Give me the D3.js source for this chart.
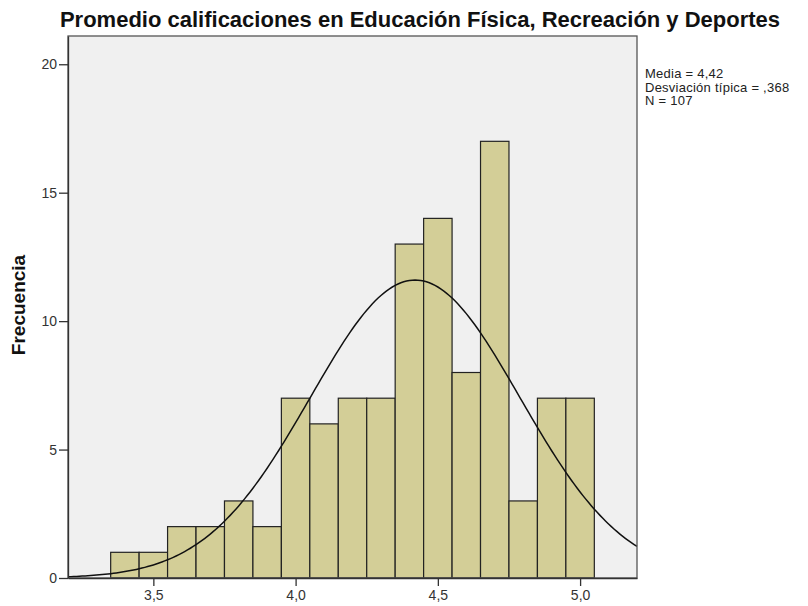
<!DOCTYPE html>
<html>
<head>
<meta charset="utf-8">
<script src="https://cdn.jsdelivr.net/npm/d3@7"></script>
<style>
  body { margin: 0; background: #fff; }
  text { font-family: Arial, "Liberation Sans", sans-serif; }
</style>
</head>
<body>
<svg id="chart"></svg>
<script>
// bin lower edges and counts (bin width 0,1)
const binStarts = [3.35, 3.45, 3.55, 3.65, 3.75, 3.85, 3.95, 4.05, 4.15, 4.25, 4.35, 4.45, 4.55, 4.65, 4.75, 4.85, 4.95];
const counts = [1, 1, 2, 2, 3, 2, 7, 6, 7, 7, 13, 14, 8, 17, 3, 7, 7];
const binWidth = 0.1;
const xTicks = [3.5, 4.0, 4.5, 5.0];
const yTicks = [0, 5, 10, 15, 20];
const mean = 4.42;
const sd = 0.368;
const n = 107;
const statLines = ["Media = 4,42", "Desviación típica = ,368", "N = 107"];

const width = 808, height = 606;
const margin = { top: 36, right: 171, bottom: 28, left: 68 };
const w = width - margin.left - margin.right;
const h = height - margin.top - margin.bottom;

const svg = d3.select('#chart')
    .attr('width', width)
    .attr('height', height);

const xScale = d3.scaleLinear().domain([3.2, 5.2]).range([0, w]);
const yScale = d3.scaleLinear().domain([0, 21.1]).range([h, 0]);

const fmt = d => d3.format('.1f')(d).replace('.', ',');

//title
svg.append('text')
    .attr('x', 420)
    .attr('y', 27)
    .attr('text-anchor', 'middle')
    .attr('font-size', 22)
    .attr('font-weight', 'bold')
    .attr('fill', '#111')
    .text('Promedio calificaciones en Educación Física, Recreación y Deportes');

const g = svg.append('g')
    .attr('transform', `translate(${margin.left},${margin.top})`);

//plot background
g.append('rect')
    .attr('width', w)
    .attr('height', h)
    .attr('fill', '#f0f0f0');

//bars
g.selectAll('.bar')
    .data(binStarts)
    .enter()
    .append('rect')
    .attr('class', 'bar')
    .attr('x', d => xScale(d))
    .attr('y', (d, i) => yScale(counts[i]))
    .attr('width', xScale(binStarts[0] + binWidth) - xScale(binStarts[0]))
    .attr('height', (d, i) => yScale(0) - yScale(counts[i]))
    .attr('fill', '#d3ce97')
    .attr('stroke', '#222')
    .attr('stroke-width', 1.2);

//normal curve
const curveX = d3.range(3.2, 5.2001, 0.01);
const density = x => n * binWidth / (sd * Math.sqrt(2 * Math.PI)) * Math.exp(-0.5 * Math.pow((x - mean) / sd, 2));
const line = d3.line()
    .x(d => xScale(d))
    .y(d => yScale(density(d)))
    .curve(d3.curveLinear);

g.append('path')
    .datum(curveX)
    .attr('fill', 'none')
    .attr('stroke', '#111')
    .attr('stroke-width', 1.5)
    .attr('d', line);

//frame
g.append('rect')
    .attr('width', w)
    .attr('height', h)
    .attr('fill', 'none')
    .attr('stroke', '#555')
    .attr('stroke-width', 1.3);

//x-axis
const xAxis = g.append('g')
    .attr('transform', `translate(0,${h})`)
    .call(d3.axisBottom(xScale).tickValues(xTicks).tickFormat(fmt).tickSize(8).tickPadding(4).tickSizeOuter(0));

//y-axis
const yAxis = g.append('g')
    .call(d3.axisLeft(yScale).tickValues(yTicks).tickSize(9).tickPadding(2).tickSizeOuter(0));

[xAxis, yAxis].forEach(a => {
    a.select('.domain').attr('stroke', '#333').attr('stroke-width', 1.3);
    a.selectAll('.tick line').attr('stroke', '#333').attr('stroke-width', 1.3);
    a.selectAll('.tick text').attr('font-size', 14).attr('fill', '#333')
        .attr('font-family', 'Arial, "Liberation Sans", sans-serif');
});

//y label
svg.append('text')
    .attr('transform', 'translate(25,305) rotate(-90)')
    .attr('text-anchor', 'middle')
    .attr('font-size', 19)
    .attr('font-weight', 'bold')
    .attr('fill', '#111')
    .text('Frecuencia');

//stats
svg.append('g')
    .selectAll('text')
    .data(statLines)
    .enter()
    .append('text')
    .attr('x', 645)
    .attr('y', (d, i) => 78 + i * 13.5)
    .attr('font-size', 13)
    .attr('letter-spacing', 0.25)
    .attr('fill', '#222')
    .text(d => d);
</script>
</body>
</html>
